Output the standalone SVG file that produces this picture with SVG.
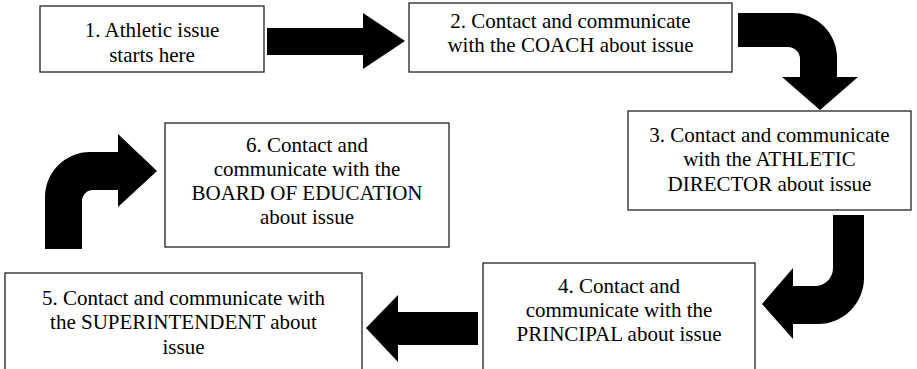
<svg xmlns="http://www.w3.org/2000/svg" width="917" height="369" viewBox="0 0 917 369">
<style>
.box{fill:#fff;stroke:#222;stroke-width:1.3}
.t{font-family:"Liberation Serif","Times New Roman",serif;font-size:21px;fill:#000;text-anchor:middle}
.arr{fill:#000;stroke:none}
</style>
<rect width="917" height="369" fill="#fff"/>
<g id="connectors">
<path class="arr" d="M267,28 L363,28 L363,13 L405,41 L363,69 L363,55 L267,55 Z"/>
<path class="arr" d="M738,13 L792,13 A45,45 0 0 1 837,58 L837,77 L858,77 L820,110 L782,77 L800,77 L800,59 A12,12 0 0 0 788,47 L738,47 Z"/>
<path class="arr" d="M864,215 L864,278 A46,46 0 0 1 818,324 L793,324 L793,339 L762,304 L793,268 L793,286 L815,286 A18,18 0 0 0 833,268 L833,215 Z"/>
<path class="arr" d="M478,312 L398,312 L398,295 L366,328 L398,362 L398,345 L478,345 Z"/>
<path class="arr" d="M45,249 L45,197 A45,45 0 0 1 90,152 L118,152 L118,134 L157,171 L118,207 L118,190 L93,190 A11,11 0 0 0 82,201 L82,249 Z"/>
</g>
<g id="node1">
<rect class="box" x="40" y="6" width="224" height="66"/>
<text class="t" x="152" y="37">1. Athletic issue</text>
<text class="t" x="152" y="62">starts here</text>
</g>
<g id="node2">
<rect class="box" x="409" y="3" width="323" height="69"/>
<text class="t" x="570.5" y="27.5">2. Contact and communicate</text>
<text class="t" x="570.5" y="52">with the COACH about issue</text>
</g>
<g id="node3">
<rect class="box" x="628" y="111" width="283" height="99"/>
<text class="t" x="769.5" y="141.5">3. Contact and communicate</text>
<text class="t" x="769.5" y="166">with the ATHLETIC</text>
<text class="t" x="769.5" y="190.5">DIRECTOR about issue</text>
</g>
<g id="node4">
<rect class="box" x="483" y="263" width="272" height="115"/>
<text class="t" x="619" y="293">4. Contact and</text>
<text class="t" x="619" y="317">communicate with the</text>
<text class="t" x="619" y="341">PRINCIPAL about issue</text>
</g>
<g id="node5">
<rect class="box" x="5" y="273" width="357" height="105"/>
<text class="t" x="183.5" y="304.5">5. Contact and communicate with</text>
<text class="t" x="183.5" y="329">the SUPERINTENDENT about</text>
<text class="t" x="183.5" y="353.5">issue</text>
</g>
<g id="node6">
<rect class="box" x="165" y="123" width="284" height="124"/>
<text class="t" x="307" y="152">6. Contact and</text>
<text class="t" x="307" y="176">communicate with the</text>
<text class="t" x="307" y="200">BOARD OF EDUCATION</text>
<text class="t" x="307" y="224">about issue</text>
</g>
</svg>
